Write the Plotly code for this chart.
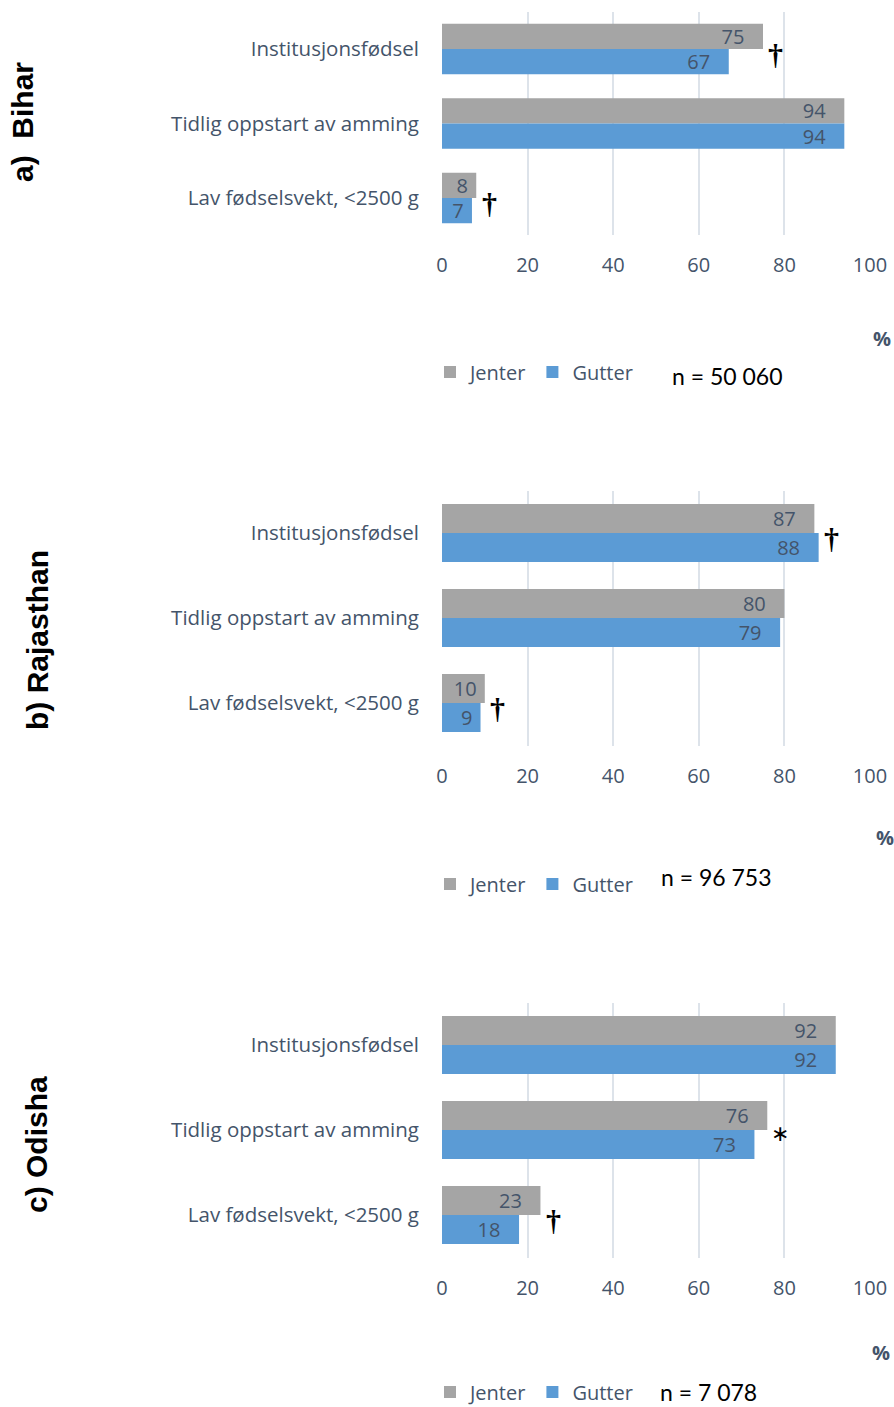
import plotly.graph_objects as go

W, H = 894, 1407

categories = ["Institusjonsfødsel", "Tidlig oppstart av amming", "Lav fødselsvekt, <2500 g"]
panels = ["a)  Bihar", "b) Rajasthan", "c) Odisha"]
series_names = ["Jenter", "Gutter"]

bihar_jenter = [75, 94, 8]
bihar_gutter = [67, 94, 7]
rajasthan_jenter = [87, 80, 10]
rajasthan_gutter = [88, 79, 9]
odisha_jenter = [92, 76, 23]
odisha_gutter = [92, 73, 18]

n_labels = ["n = 50 060", "n = 96 753", "n = 7 078"]

# significance markers: (panel index, category index, symbol)
sig_marks = [(0, 0, "†"), (0, 2, "†"), (1, 0, "†"), (1, 2, "†"), (2, 1, "∗"), (2, 2, "†")]

x_ticks = [0, 20, 40, 60, 80, 100]

# ---- styling / layout constants (pixels) ----
GREY = "#a5a5a5"
BLUE = "#5b9bd5"
TXT = "#44546a"
FONT = "Open Sans"
X0, X1 = 442, 870
panel_px = [(11.75, 235.25), (490.5, 745.5), (1002.5, 1257.5)]
title_px = [(22, 122), (37, 640), (36, 1145)]
pct_px = [(882, 339), (885, 837), (881, 1352)]
legend_py = [372, 884, 1392]
n_px = [(727, 376), (716, 877), (708, 1392)]


def px(x):
    return x / W


def py(y):
    return 1 - y / H


data = [(bihar_jenter, bihar_gutter), (rajasthan_jenter, rajasthan_gutter), (odisha_jenter, odisha_gutter)]

fig = go.Figure()
annotations = []


def lab(v):
    return f"{v}" + ("\u00a0\u00a0\u00a0" if v > 15 else "\u00a0")


for i, (jen, gut) in enumerate(data):
    xa = "x" if i == 0 else f"x{i+1}"
    ya = "y" if i == 0 else f"y{i+1}"
    lg = "legend" if i == 0 else f"legend{i+1}"
    for name, vals, col in [(series_names[0], jen, GREY), (series_names[1], gut, BLUE)]:
        fig.add_trace(go.Bar(
            y=categories, x=vals, orientation="h", name=name,
            marker=dict(color=col, line=dict(width=0)),
            text=[lab(v) for v in vals], textposition="inside", insidetextanchor="end",
            constraintext="none", textangle=0,
            textfont=dict(family=FONT, size=20, color=TXT),
            xaxis=xa, yaxis=ya, legend=lg, hoverinfo="skip",
        ))
    for (pi, ci, sym) in sig_marks:
        if pi != i:
            continue
        xv = max(jen[ci], gut[ci]) + 3
        dag = sym == "†"
        annotations.append(dict(
            x=xv, y=categories[ci], xref=xa, yref=ya, text=f"<b>{sym}</b>" if dag else sym,
            showarrow=False,
            font=dict(family="Liberation Serif", size=30 if dag else 22, color="black"),
            yshift=-5 if dag else -3,
        ))
    # panel titles
    tx, ty = title_px[i]
    annotations.append(dict(
        x=px(tx), y=py(ty), xref="paper", yref="paper", text=f"<b>{panels[i]}</b>",
        textangle=-90, showarrow=False, xanchor="center", yanchor="middle",
        font=dict(family="Liberation Sans", size=30, color="black"),
    ))
    # percent
    ptx, pty = pct_px[i]
    annotations.append(dict(
        x=px(ptx), y=py(pty), xref="paper", yref="paper", text="<b>%</b>",
        showarrow=False, xanchor="center", yanchor="middle",
        font=dict(family=FONT, size=20, color=TXT),
    ))
    # n label
    nx, ny = n_px[i]
    annotations.append(dict(
        x=px(nx), y=py(ny), xref="paper", yref="paper", text=n_labels[i],
        showarrow=False, xanchor="center", yanchor="middle",
        font=dict(family="Lato", size=23, color="black"),
    ))

layout = dict(
    width=W, height=H, margin=dict(l=0, r=0, t=0, b=0, autoexpand=False),
    paper_bgcolor="white", plot_bgcolor="white",
    barmode="group", bargap=0.32, bargroupgap=0,
    annotations=annotations,
)
for i in range(3):
    sx = "" if i == 0 else str(i + 1)
    top, bot = panel_px[i]
    layout[f"xaxis{sx}"] = dict(
        domain=[px(X0), px(X1)], range=[0, 100], tickvals=x_ticks,
        showgrid=True, gridcolor="#dde3ea", gridwidth=1.5, zeroline=False,
        showline=False, ticks="", ticklabelstandoff=16, automargin=False,
        tickfont=dict(family=FONT, size=20, color=TXT),
        anchor=f"y{sx}", fixedrange=True,
    )
    layout[f"yaxis{sx}"] = dict(
        domain=[py(bot), py(top)], autorange="reversed", type="category",
        showgrid=False, zeroline=False, showline=False, ticks="",
        ticklabelstandoff=22, automargin=False,
        tickfont=dict(family=FONT, size=20.5, color=TXT),
        anchor=f"x{sx}", fixedrange=True,
    )
    lname = "legend" if i == 0 else f"legend{i+1}"
    layout[lname] = dict(
        orientation="h", x=px(430), xanchor="left", y=py(legend_py[i]), yanchor="middle",
        font=dict(family=FONT, size=20, color=TXT), bgcolor="rgba(0,0,0,0)",
        traceorder="normal", itemclick=False, itemdoubleclick=False,
    )

fig.update_layout(**layout)
fig.write_html("out.html")
